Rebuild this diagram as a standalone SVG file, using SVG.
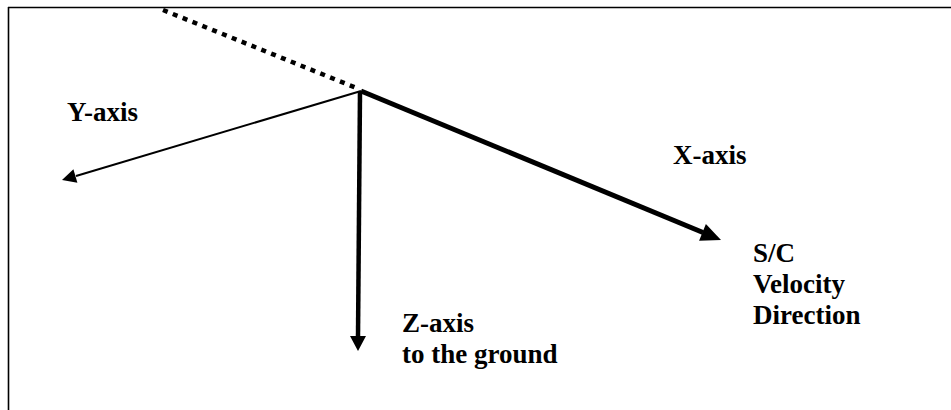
<svg xmlns="http://www.w3.org/2000/svg" width="951" height="410" viewBox="0 0 951 410">
<style>
text{font-family:'Liberation Serif','Times New Roman',Times,serif;font-weight:700;font-size:27px;fill:#000}
.ln{stroke:#000;fill:none;stroke-linecap:butt}
.ah{fill:#000;stroke:none}
</style>
<rect x="0" y="0" width="951" height="410" fill="#fff"/>
<g id="frame">
<line class="ln" x1="8" y1="7.5" x2="951" y2="7.5" stroke-width="1.6"/>
<line class="ln" x1="8.5" y1="7" x2="8.5" y2="410" stroke-width="1.6"/>
</g>
<g id="connectors">
<line class="ln" x1="163" y1="10" x2="359" y2="89" stroke-width="4.5" stroke-dasharray="5 5.6"/>
<line class="ln" x1="361" y1="91" x2="703" y2="232.5" stroke-width="5"/>
<polygon class="ah" points="721,240 699.1,240.7 705.9,224.1"/>
<line class="ln" x1="360" y1="91" x2="358" y2="337" stroke-width="4.5"/>
<polygon class="ah" points="350,336 366,336 358,351"/>
<line class="ln" x1="361" y1="91" x2="76" y2="176" stroke-width="2"/>
<polygon class="ah" points="62,180 77.4,182.7 73.4,169.3"/>
</g>
<g id="y-axis"><text x="67" y="121">Y-axis</text></g>
<g id="x-axis"><text x="673" y="164">X-axis</text></g>
<g id="velocity"><text x="753" y="262">S/C</text><text x="753" y="293">Velocity</text><text x="753" y="324">Direction</text></g>
<g id="z-axis"><text x="402" y="332">Z-axis</text><text x="402" y="363">to the ground</text></g>
</svg>
